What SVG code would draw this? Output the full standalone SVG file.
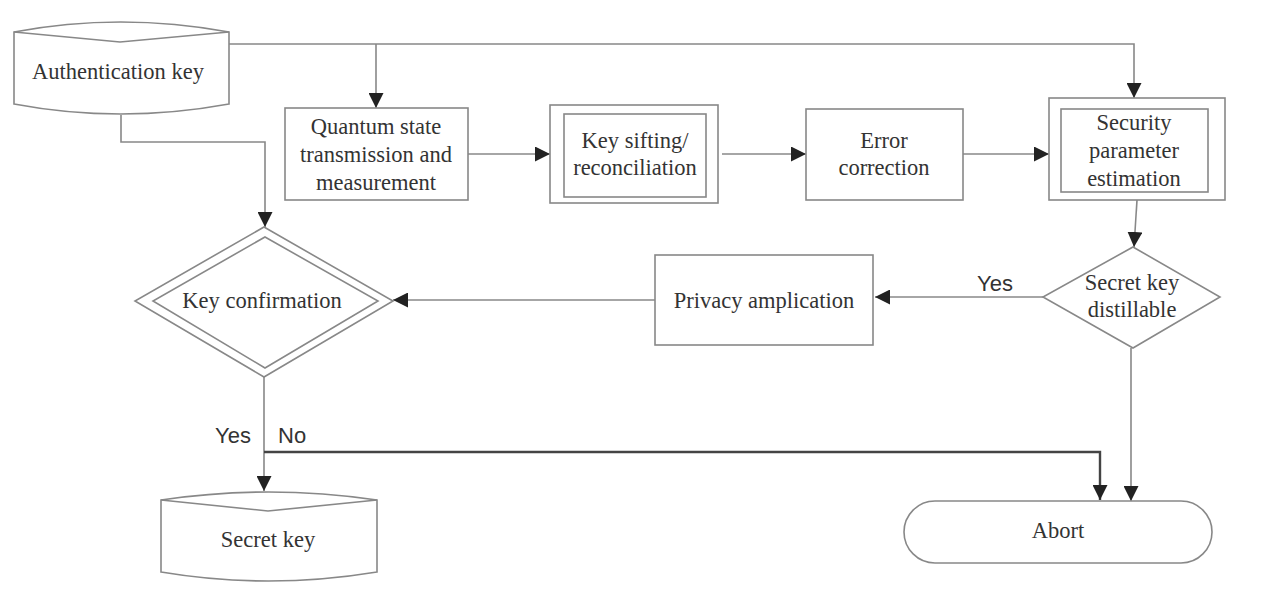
<svg xmlns="http://www.w3.org/2000/svg" width="1261" height="597" viewBox="0 0 1261 597">
<style>
.n{fill:#fff;stroke:#888;stroke-width:1.6}
.t{font-family:"Liberation Serif","Times New Roman",serif;font-size:22.5px;fill:#333;text-anchor:middle}
.s{font-family:"Liberation Sans",Arial,sans-serif;font-size:22px;fill:#333}
.c{fill:none;stroke:#888;stroke-width:1.6}
.d{fill:none;stroke:#444;stroke-width:2.4}
</style>
<defs>
<marker id="a" viewBox="0 0 10 10" refX="10" refY="5" markerWidth="15" markerHeight="15" markerUnits="userSpaceOnUse" orient="auto">
<path d="M0,0 L10,5 L0,10 Z" fill="#222"/>
</marker>
</defs>
<rect width="1261" height="597" fill="#fff"/>
<g id="connectors">
<path class="c" d="M229,44 H1134 V98" marker-end="url(#a)"/>
<path class="c" d="M376,44 V108" marker-end="url(#a)"/>
<path class="c" d="M121,115 V142 H265 V227" marker-end="url(#a)"/>
<path class="c" d="M468,154 H550" marker-end="url(#a)"/>
<path class="c" d="M722,154 H806" marker-end="url(#a)"/>
<path class="c" d="M963,154 H1049" marker-end="url(#a)"/>
<path class="c" d="M1137,200 L1134,247" marker-end="url(#a)"/>
<path class="c" d="M1043,297 H875" marker-end="url(#a)"/>
<path class="c" d="M655,300 H393" marker-end="url(#a)"/>
<path class="c" d="M264,377 V491" marker-end="url(#a)"/>
<path class="d" d="M264,452 H1100 V500" marker-end="url(#a)"/>
<path class="c" d="M1131,348 V501" marker-end="url(#a)"/>
<text class="s" x="977" y="291">Yes</text>
<text class="s" x="215" y="443">Yes</text>
<text class="s" x="278" y="443">No</text>
</g>
<g id="auth-key">
<path class="n" d="M14,32 Q120,12 229,32 V104 Q120,124 14,104 Z"/>
<path class="c" d="M14,32 L120,42 L229,32"/>
<text class="t" x="118" y="79">Authentication key</text>
</g>
<g id="quantum">
<rect class="n" x="285" y="108" width="183" height="92"/>
<text class="t" x="376" y="134">Quantum state</text>
<text class="t" x="376" y="162">transmission and</text>
<text class="t" x="376" y="190">measurement</text>
</g>
<g id="sifting">
<rect class="n" x="550" y="105" width="168" height="98"/>
<rect class="n" x="564" y="114" width="142" height="83"/>
<text class="t" x="635" y="148">Key sifting/</text>
<text class="t" x="635" y="175">reconciliation</text>
</g>
<g id="error">
<rect class="n" x="806" y="109" width="157" height="91"/>
<text class="t" x="884" y="148">Error</text>
<text class="t" x="884" y="175">correction</text>
</g>
<g id="security">
<rect class="n" x="1049" y="98" width="176" height="102"/>
<rect class="n" x="1061" y="109" width="147" height="83"/>
<text class="t" x="1134" y="130">Security</text>
<text class="t" x="1134" y="158">parameter</text>
<text class="t" x="1134" y="186">estimation</text>
</g>
<g id="distillable">
<path class="n" d="M1133,247 L1220,297 L1133,348 L1043,297 Z"/>
<text class="t" x="1132" y="290">Secret key</text>
<text class="t" x="1132" y="317">distillable</text>
</g>
<g id="privacy">
<rect class="n" x="655" y="255" width="218" height="90"/>
<text class="t" x="764" y="308">Privacy amplication</text>
</g>
<g id="confirmation">
<path class="n" d="M264,227 L393,301 L264,377 L135,301 Z"/>
<path class="n" d="M265,237 L378,301 L265,368 L153,301 Z"/>
<text class="t" x="262" y="308">Key confirmation</text>
</g>
<g id="secret-key">
<path class="n" d="M161,500 Q268,484 377,500 V572 Q268,590 161,572 Z"/>
<path class="c" d="M161,500 L268,511 L377,500"/>
<text class="t" x="268" y="547">Secret key</text>
</g>
<g id="abort">
<rect class="n" x="904" y="501" width="308" height="62" rx="31"/>
<text class="t" x="1058" y="538">Abort</text>
</g>
</svg>
